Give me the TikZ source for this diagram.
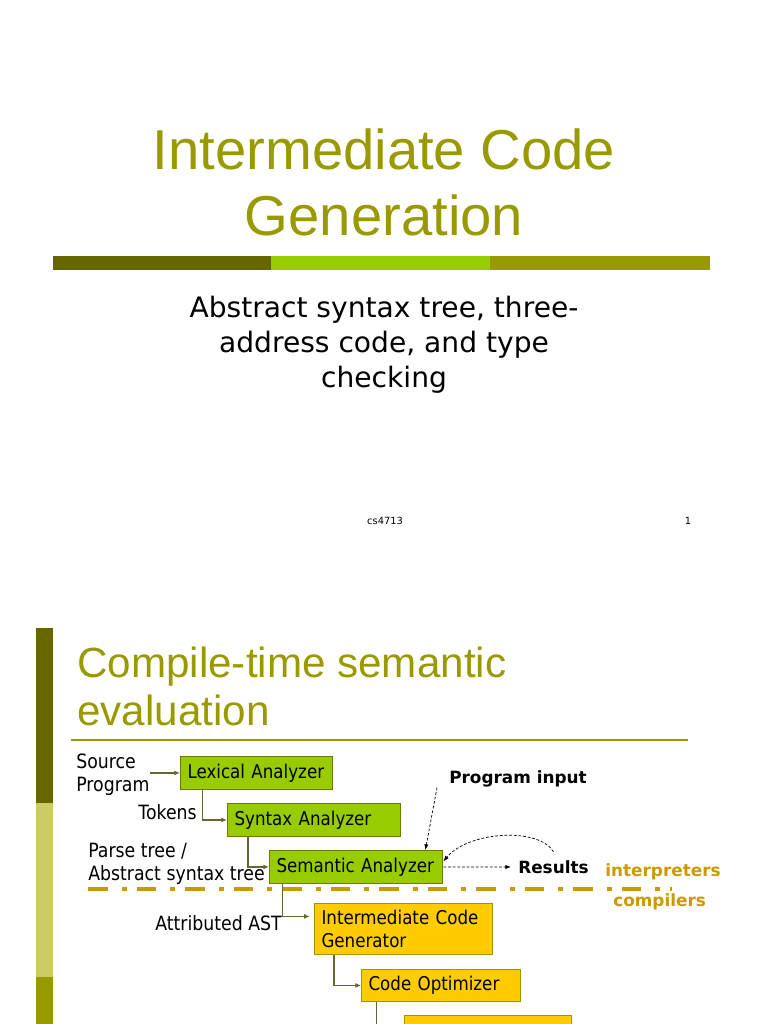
\documentclass[tikz,border=0pt]{standalone}
\usepackage{fontspec}
\setmainfont{Liberation Sans}
\newfontfamily\verdfont{DejaVu Sans}
\newfontfamily\tahfont[FakeStretch=0.88]{DejaVu Sans}
\usetikzlibrary{arrows.meta}
\definecolor{olivedark}{HTML}{666600}
\definecolor{olivemid}{HTML}{999900}
\definecolor{limegreen}{HTML}{99CC00}
\definecolor{khaki}{HTML}{CCCC66}
\definecolor{gold}{HTML}{FFCC00}
\definecolor{amber}{HTML}{CC9900}
\definecolor{wire}{HTML}{666633}

\tikzset{
  phase/.style={draw, line width=0.7pt, anchor=north west, inner xsep=5pt, inner ysep=0pt,
    align=left, font=\tahfont\fontsize{13.5}{17}\selectfont},
  greenphase/.style={phase, fill=limegreen, draw=olivedark!80!limegreen},
  goldphase/.style={phase, fill=gold, draw=olivemid},
  lbl/.style={inner sep=0pt, align=left, font=\tahfont\fontsize{14}{16.3}\selectfont},
  conn/.style={wire, line width=0.8pt, -{Latex[length=4pt,width=3.5pt]}},
  dasharr/.style={black, line width=0.5pt, dash pattern=on 2pt off 1.3pt, -{Latex[length=4pt,width=3pt]}}
}

\begin{document}
\begin{tikzpicture}[x=0.025cm, y=-0.025cm]
        \useasboundingbox (0,0) rectangle (768,1024);
        \clip (0,0) rectangle (768,1024);
        % ---- first slide ----
        \node[olivemid, font=\fontsize{40}{46}\selectfont, anchor=base] (ttl1) at (384,170) {Intermediate Code};
        \node[olivemid, font=\fontsize{40}{46}\selectfont, anchor=base] (ttl2) at (384,235) {Generation};
        \fill[olivedark] (53,256) rectangle (271,270);
        \fill[limegreen] (271,256) rectangle (490,270);
        \fill[olivemid] (490,256) rectangle (710,270);
        \node[font=\verdfont\fontsize{20}{24.8}\selectfont, anchor=base] (sub1) at (384,317) {Abstract syntax tree, three-};
        \node[font=\verdfont\fontsize{20}{24.8}\selectfont, anchor=base] (sub2) at (384,352) {address code, and type};
        \node[font=\verdfont\fontsize{20}{24.8}\selectfont, anchor=base] (sub3) at (384,387) {checking};
        \node[font=\verdfont\fontsize{7}{8}\selectfont, inner sep=0pt] (foot) at (385,521) {cs4713};
        \node[font=\verdfont\fontsize{7}{8}\selectfont, inner sep=0pt] (pnum) at (688,521) {1};
        % ---- second slide ----
        \fill[olivedark] (36,628) rectangle (53,803);
        \fill[khaki] (36,803) rectangle (53,977);
        \fill[olivemid] (36,977) rectangle (53,1024);
        \node[olivemid, font=\fontsize{30}{36}\selectfont, anchor=base west, inner sep=0pt] (hd1) at (77,677) {Compile-time semantic};
        \node[olivemid, font=\fontsize{30}{36}\selectfont, anchor=base west, inner sep=0pt] (hd2) at (77,725) {evaluation};
        \draw[olivemid, line width=1.4pt] (71,740) -- (688,740);
        % the phase boxes
        \node[greenphase, text width=98.4pt, minimum height=23.4pt] (lex) at (180,756) {Lexical Analyzer};
        \node[greenphase, text width=113.3pt, minimum height=23.4pt] (syn) at (227,803) {Syntax Analyzer};
        \node[greenphase, text width=113.3pt, minimum height=23.4pt] (sem) at (269,850) {Semantic Analyzer};
        \node[goldphase, text width=116.9pt, minimum height=36.1pt] (icg) at (314,903) {Intermediate Code\\Generator};
        \node[goldphase, text width=103.4pt, minimum height=22.7pt] (opt) at (361,969) {Code Optimizer};
        \node[goldphase, text width=109pt, minimum height=23.4pt] (cgen) at (404,1015) {Code Generator};
        % labels
        \node[lbl, anchor=west] (src) at (76,774.5) {Source\\Program};
        \node[lbl, anchor=east] (tok) at (197,812) {Tokens};
        \node[lbl, anchor=west] (ptree) at (88,864) {Parse tree /\\Abstract syntax tree};
        \node[lbl, anchor=east] (aast) at (282,923) {Attributed AST};
        \node[inner sep=0pt, anchor=west, font=\verdfont\bfseries\fontsize{12}{14}\selectfont] (pin) at (449,779) {Program input};
        \node[inner sep=0pt, anchor=west, font=\verdfont\bfseries\fontsize{12}{14}\selectfont] (res) at (518,867) {Results};
        \node[amber, inner sep=0pt, anchor=west, font=\verdfont\bfseries\fontsize{12}{14}\selectfont] (interp) at (605,872) {interpreters};
        \node[amber, inner sep=0pt, anchor=west, font=\verdfont\bfseries\fontsize{12}{14}\selectfont] (comp) at (613,902) {compilers};
        % the dash-dot border
        \draw[amber, line width=2.8pt, dash pattern=on 14pt off 10pt on 3.5pt off 7pt] (88,889) -- (672,889);
        % connectors
        \draw[conn] (lex.west -| src.east) -- (lex.west);
        \draw[conn] ([xshift=16.3pt]lex.south west) |- (syn.west);
        \draw[conn] ([xshift=14.9pt]syn.south west) |- (sem.west);
        \draw[conn] ([xshift=9.9pt]sem.south west) |- ([xshift=-3pt,yshift=8.9pt]icg.west);
        \draw[conn] ([xshift=14.2pt]icg.south west) |- (opt.west);
        \draw[conn] ([xshift=11.3pt]opt.south west) |- (cgen.west);
        \draw[dasharr] ([xshift=-8.5pt]pin.south west) -- ([xshift=-12.8pt]sem.north east);
        \draw[dasharr] (sem.east) -- ([xshift=-5pt]res.west);
        \draw[dasharr] ([yshift=6pt]res.north) .. controls +(-15,-25) and +(25,-30) .. ([yshift=4pt]sem.east);
\end{tikzpicture}
\end{document}
